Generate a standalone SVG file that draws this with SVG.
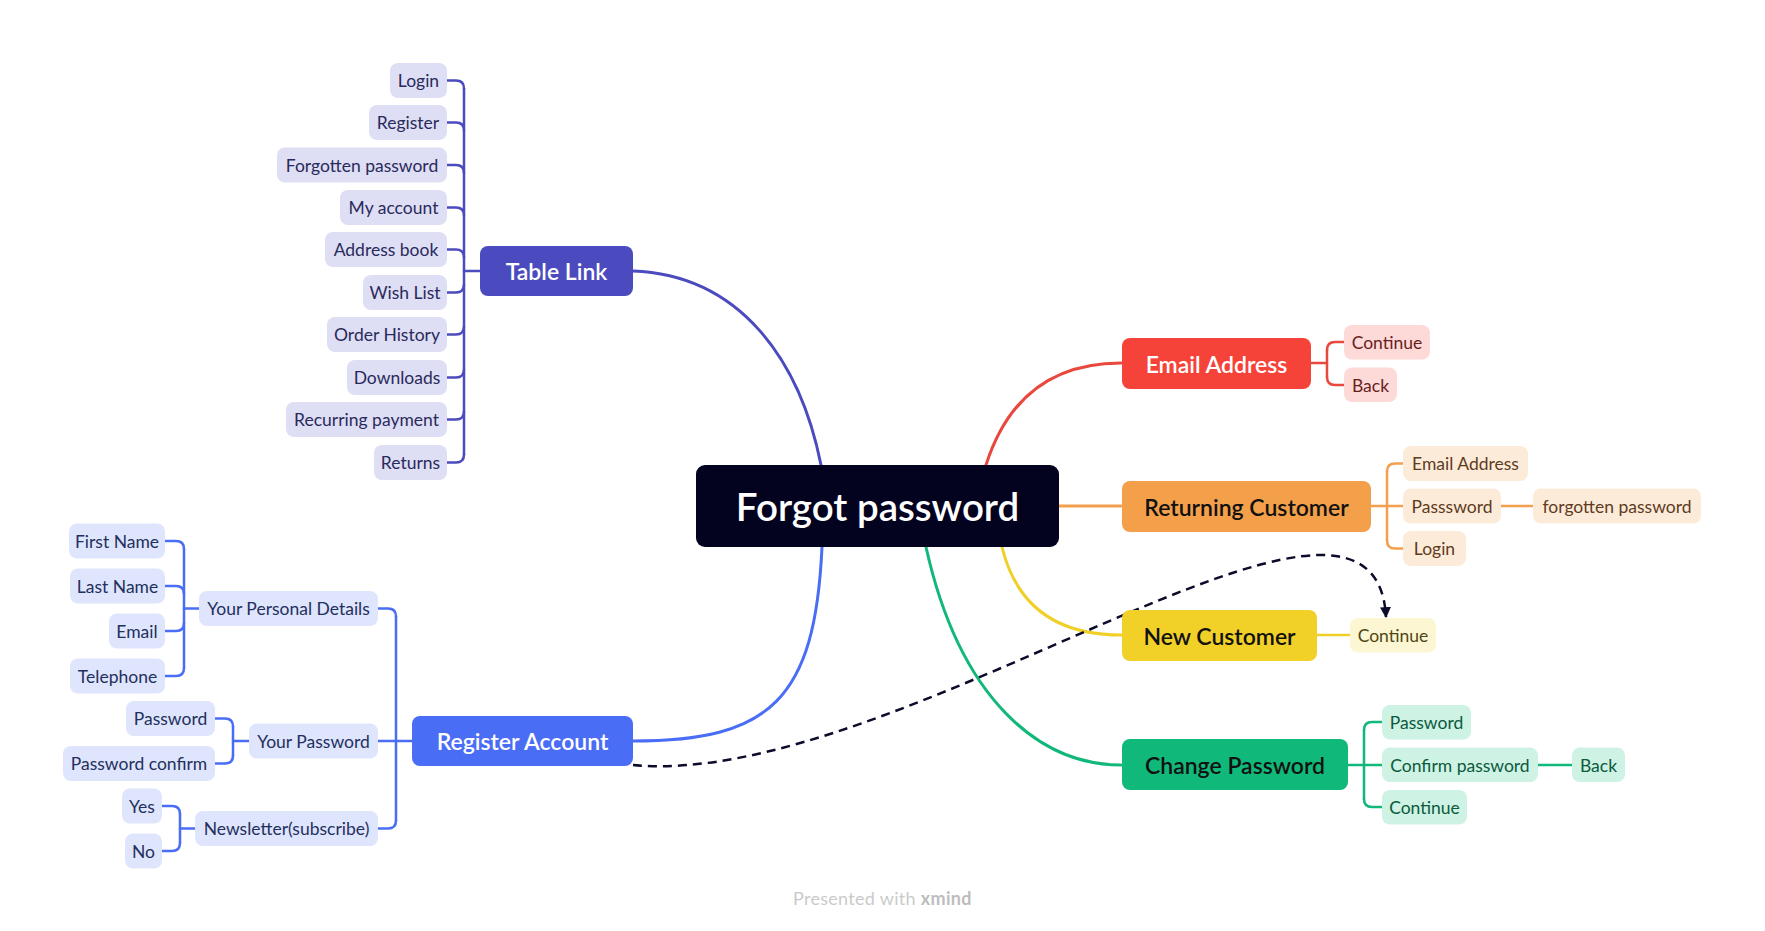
<svg xmlns="http://www.w3.org/2000/svg" width="1765" height="931" viewBox="0 0 1765 931">
<style>
text{font-family:Lato,"Liberation Sans",sans-serif}
.sub{font-size:17.5px;text-anchor:middle;dominant-baseline:central}
.main{font-size:23px;font-weight:600;text-anchor:middle;dominant-baseline:central}
.ln{fill:none;stroke-width:2.5;stroke-linecap:round}
.cv{fill:none;stroke-width:3;stroke-linecap:round}
.pu{stroke:#4B4BBF}.bl{stroke:#4A6DF5}.rd{stroke:#E8483E}.or{stroke:#F2A04D}.ye{stroke:#F0D028}.gr{stroke:#12B77A}
.fpu{fill:#DEDEF4}.fbl{fill:#DEE5FC}.frd{fill:#FDD9D8}.for{fill:#FDEBDA}.fye{fill:#FDF6D3}.fgr{fill:#CEF2E3}
.tpu{fill:#2A2A5C}.tbl{fill:#23305E}.trd{fill:#6A1E1E}.tor{fill:#5E3B1C}.tye{fill:#4E4713}.tgr{fill:#0B5A3E}
</style>
<defs>
<marker id="arr" viewBox="0 0 10 10" refX="9" refY="5" markerWidth="11" markerHeight="11" markerUnits="userSpaceOnUse" orient="auto">
<path d="M0,0 L10,5 L0,10 z" fill="#0B0B2B"/>
</marker>
</defs>
<rect width="1765" height="931" fill="#ffffff"/>

<g id="connectors">
<!-- main curves -->
<path class="cv pu" d="M633,271 C740,275 800,360 821,465"/>
<path class="cv bl" d="M822,547 C815,700 770,741 633,741"/>
<path class="cv rd" d="M986,465 C1010,390 1060,363 1121,363"/>
<path class="cv or" d="M1059,506 H1121"/>
<path class="cv ye" d="M1002,547 C1015,600 1050,635 1121,635"/>
<path class="cv gr" d="M926,547 C960,700 1040,765 1121,765"/>
<!-- Table Link bracket -->
<g class="ln pu">
<path d="M480,271 H464"/>
<path d="M464,88.5 V454.5"/>
<path d="M447,80.5 H456 Q464,80.5 464,88.5"/>
<path d="M447,122.5 H456 Q464,122.5 464,130.5"/>
<path d="M447,165 H456 Q464,165 464,173"/>
<path d="M447,207.5 H456 Q464,207.5 464,215.5"/>
<path d="M447,249.5 H456 Q464,249.5 464,257.5"/>
<path d="M447,292.5 H456 Q464,292.5 464,284.5"/>
<path d="M447,334.5 H456 Q464,334.5 464,326.5"/>
<path d="M447,377.5 H456 Q464,377.5 464,369.5"/>
<path d="M447,419.5 H456 Q464,419.5 464,411.5"/>
<path d="M447,462.5 H456 Q464,462.5 464,454.5"/>
</g>
<!-- Register Account bracket -->
<g class="ln bl">
<path d="M412,741 H378"/>
<path d="M396,616.5 V820.5"/>
<path d="M378,608.5 H388 Q396,608.5 396,616.5"/>
<path d="M378,828.5 H388 Q396,828.5 396,820.5"/>
<path d="M199,608.5 H184"/>
<path d="M184,549 V668"/>
<path d="M165,541 H176 Q184,541 184,549"/>
<path d="M165,586 H176 Q184,586 184,594"/>
<path d="M165,631 H176 Q184,631 184,623"/>
<path d="M165,676 H176 Q184,676 184,668"/>
<path d="M249,741 H233"/>
<path d="M233,726.5 V755.5"/>
<path d="M215,718.5 H225 Q233,718.5 233,726.5"/>
<path d="M215,763.5 H225 Q233,763.5 233,755.5"/>
<path d="M195,828.5 H180"/>
<path d="M180,814 V843"/>
<path d="M162,806 H172 Q180,806 180,814"/>
<path d="M162,851 H172 Q180,851 180,843"/>
</g>
<!-- Email Address bracket -->
<g class="ln rd">
<path d="M1311,363 H1327"/>
<path d="M1327,350 V377"/>
<path d="M1344,342 H1335 Q1327,342 1327,350"/>
<path d="M1344,385 H1335 Q1327,385 1327,377"/>
</g>
<!-- Returning Customer bracket -->
<g class="ln or">
<path d="M1371,506 H1403"/>
<path d="M1387,471.5 V540.5"/>
<path d="M1403,463.5 H1395 Q1387,463.5 1387,471.5"/>
<path d="M1403,548.5 H1395 Q1387,548.5 1387,540.5"/>
<path d="M1501,506 H1533"/>
</g>
<!-- New Customer -->
<path class="ln ye" d="M1317,635 H1350"/>
<!-- Change Password bracket -->
<g class="ln gr">
<path d="M1348,765 H1382"/>
<path d="M1364,730 V799"/>
<path d="M1382,722 H1372 Q1364,722 1364,730"/>
<path d="M1382,807 H1372 Q1364,807 1364,799"/>
<path d="M1538,765 H1572"/>
</g>
<!-- dashed relationship -->
<path d="M633,765 C900,790 1375,410 1386,617" fill="none" stroke="#0B0B2B" stroke-width="2.5" stroke-dasharray="9,6" marker-end="url(#arr)"/>
</g>

<g id="center">
<rect x="696" y="465" width="363" height="82" rx="9" fill="#03031F"/>
<text x="877.5" y="506" font-size="38.5" font-weight="600" fill="#ffffff" text-anchor="middle" dominant-baseline="central">Forgot password</text>
</g>

<g id="table-link">
<rect x="480" y="246" width="153" height="50" rx="8" fill="#4B4BBF"/>
<text class="main" x="556.5" y="271" fill="#ffffff">Table Link</text>
</g>
<g id="tl-login"><rect class="fpu" x="390" y="63" width="57" height="35" rx="8"/><text class="sub tpu" x="418.5" y="80.5">Login</text></g>
<g id="tl-register"><rect class="fpu" x="369" y="105" width="78" height="35" rx="8"/><text class="sub tpu" x="408" y="122.5">Register</text></g>
<g id="tl-forgotten"><rect class="fpu" x="277" y="147.5" width="170" height="35" rx="8"/><text class="sub tpu" x="362" y="165">Forgotten password</text></g>
<g id="tl-myaccount"><rect class="fpu" x="340" y="190" width="107" height="35" rx="8"/><text class="sub tpu" x="393.5" y="207.5">My account</text></g>
<g id="tl-addressbook"><rect class="fpu" x="325" y="232" width="122" height="35" rx="8"/><text class="sub tpu" x="386" y="249.5">Address book</text></g>
<g id="tl-wishlist"><rect class="fpu" x="363" y="275" width="84" height="35" rx="8"/><text class="sub tpu" x="405" y="292.5">Wish List</text></g>
<g id="tl-orderhistory"><rect class="fpu" x="327" y="317" width="120" height="35" rx="8"/><text class="sub tpu" x="387" y="334.5">Order History</text></g>
<g id="tl-downloads"><rect class="fpu" x="347" y="360" width="100" height="35" rx="8"/><text class="sub tpu" x="397" y="377.5">Downloads</text></g>
<g id="tl-recurring"><rect class="fpu" x="286" y="402" width="161" height="35" rx="8"/><text class="sub tpu" x="366.5" y="419.5">Recurring payment</text></g>
<g id="tl-returns"><rect class="fpu" x="374" y="445" width="73" height="35" rx="8"/><text class="sub tpu" x="410.5" y="462.5">Returns</text></g>

<g id="register-account">
<rect x="412" y="716" width="221" height="50" rx="8" fill="#4A6DF5"/>
<text class="main" x="522.5" y="741" fill="#ffffff">Register Account</text>
</g>
<g id="ra-personal"><rect class="fbl" x="199" y="591" width="179" height="35" rx="8"/><text class="sub tbl" x="288.5" y="608.5">Your Personal Details</text></g>
<g id="ra-firstname"><rect class="fbl" x="69" y="523.5" width="96" height="35" rx="8"/><text class="sub tbl" x="117" y="541">First Name</text></g>
<g id="ra-lastname"><rect class="fbl" x="70" y="568.5" width="95" height="35" rx="8"/><text class="sub tbl" x="117.5" y="586">Last Name</text></g>
<g id="ra-email"><rect class="fbl" x="109" y="613.5" width="56" height="35" rx="8"/><text class="sub tbl" x="137" y="631">Email</text></g>
<g id="ra-telephone"><rect class="fbl" x="70" y="658.5" width="95" height="35" rx="8"/><text class="sub tbl" x="117.5" y="676">Telephone</text></g>
<g id="ra-yourpassword"><rect class="fbl" x="249" y="723.5" width="129" height="35" rx="8"/><text class="sub tbl" x="313.5" y="741">Your Password</text></g>
<g id="ra-password"><rect class="fbl" x="126" y="701" width="89" height="35" rx="8"/><text class="sub tbl" x="170.5" y="718.5">Password</text></g>
<g id="ra-passwordconfirm"><rect class="fbl" x="63" y="746" width="152" height="35" rx="8"/><text class="sub tbl" x="139" y="763.5">Password confirm</text></g>
<g id="ra-newsletter"><rect class="fbl" x="195" y="811" width="183" height="35" rx="8"/><text class="sub tbl" x="286.5" y="828.5">Newsletter(subscribe)</text></g>
<g id="ra-yes"><rect class="fbl" x="122" y="788.5" width="40" height="35" rx="8"/><text class="sub tbl" x="142" y="806">Yes</text></g>
<g id="ra-no"><rect class="fbl" x="125" y="833.5" width="37" height="35" rx="8"/><text class="sub tbl" x="143.5" y="851">No</text></g>

<g id="email-address">
<rect x="1122" y="338" width="189" height="51" rx="8" fill="#F5433A"/>
<text class="main" x="1216.5" y="363.5" fill="#ffffff">Email Address</text>
</g>
<g id="ea-continue"><rect class="frd" x="1344" y="325" width="86" height="34.5" rx="8"/><text class="sub trd" x="1387" y="342">Continue</text></g>
<g id="ea-back"><rect class="frd" x="1344" y="367.5" width="53" height="34.5" rx="8"/><text class="sub trd" x="1370.5" y="385">Back</text></g>

<g id="returning-customer">
<rect x="1122" y="481" width="249" height="51" rx="8" fill="#F4A04B"/>
<text class="main" x="1246.5" y="506.5" fill="#111111">Returning Customer</text>
</g>
<g id="rc-email"><rect class="for" x="1403" y="446" width="125" height="35" rx="8"/><text class="sub tor" x="1465.5" y="463.5">Email Address</text></g>
<g id="rc-password"><rect class="for" x="1403" y="488.5" width="98" height="35" rx="8"/><text class="sub tor" x="1452" y="506">Passsword</text></g>
<g id="rc-forgotten"><rect class="for" x="1533" y="488.5" width="168" height="35" rx="8"/><text class="sub tor" x="1617" y="506">forgotten password</text></g>
<g id="rc-login"><rect class="for" x="1403" y="531" width="63" height="35" rx="8"/><text class="sub tor" x="1434.5" y="548.5">Login</text></g>

<g id="new-customer">
<rect x="1122" y="610" width="195" height="51" rx="8" fill="#F1D027"/>
<text class="main" x="1219.5" y="635.5" fill="#111111">New Customer</text>
</g>
<g id="nc-continue"><rect class="fye" x="1350" y="618" width="86" height="34.5" rx="8"/><text class="sub tye" x="1393" y="635">Continue</text></g>

<g id="change-password">
<rect x="1122" y="739" width="226" height="51" rx="8" fill="#10B97A"/>
<text class="main" x="1235" y="764.5" fill="#111111">Change Password</text>
</g>
<g id="cp-password"><rect class="fgr" x="1382" y="705" width="89" height="34.5" rx="8"/><text class="sub tgr" x="1426.5" y="722">Password</text></g>
<g id="cp-confirm"><rect class="fgr" x="1382" y="747.5" width="156" height="34.5" rx="8"/><text class="sub tgr" x="1460" y="765">Confirm password</text></g>
<g id="cp-back"><rect class="fgr" x="1572" y="747.5" width="53" height="34.5" rx="8"/><text class="sub tgr" x="1598.5" y="765">Back</text></g>
<g id="cp-continue"><rect class="fgr" x="1382" y="790" width="85" height="34.5" rx="8"/><text class="sub tgr" x="1424.5" y="807">Continue</text></g>

<text x="793" y="905" font-size="18" letter-spacing="0.3" fill="#CACACA">Presented with <tspan font-weight="700" fill="#BDBDBD">xmind</tspan></text>
</svg>
